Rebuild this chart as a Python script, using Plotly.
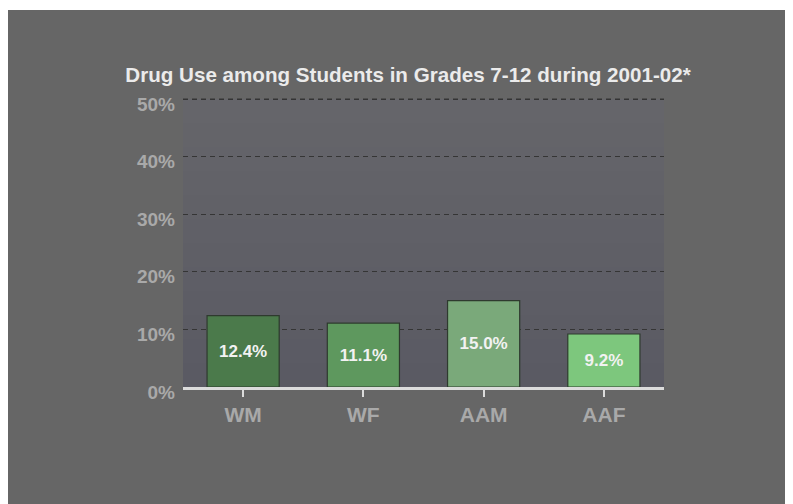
import plotly.graph_objects as go

categories = ["WM", "WF", "AAM", "AAF"]
values = [12.4, 11.1, 15.0, 9.2]
y_ticks = [0, 10, 20, 30, 40, 50]
y_tick_labels = ["0%", "10%", "20%", "30%", "40%", "50%"]
title_text = "Drug Use among Students in Grades 7-12 during 2001-02*"

bar_colors = ["#4b7a4b", "#5e985e", "#7aa97a", "#7dc77d"]

W, H = 793, 504
Y_TOP = 50.7
# plot area in figure coordinates (page has an 8px body margin)
L, R, B = 175, 656, 379
T = round(B - (B - 91) * Y_TOP / 50)

fig = go.Figure()
fig.add_trace(go.Bar(
    x=categories, y=values,
    width=0.6,
    marker=dict(color=bar_colors, line=dict(color="#2e3a2e", width=1.2)),
    text=[f"{v:.1f}%" for v in values],
    textposition="inside", insidetextanchor="middle",
    textfont=dict(family="Liberation Sans, Arial, sans-serif", size=17, color="#f2f2f2", weight="bold"),
    hoverinfo="skip",
))

shapes = []
pw = R - L
ph = B - T
n = 12
top_c = (0x65, 0x65, 0x6a)
bot_c = (0x5a, 0x5a, 0x63)
for i in range(n):
    f = i / (n - 1)
    c = tuple(round(top_c[k] + (bot_c[k] - top_c[k]) * f) for k in range(3))
    shapes.append(dict(type="rect", xref="paper", yref="y",
                       x0=0, x1=1, y0=y_ticks[-1] * (1 - (i + 1) / n), y1=y_ticks[-1] * (1 - i / n),
                       fillcolor="rgb(%d,%d,%d)" % c, line=dict(width=0), layer="below"))
# dashed gridline for the top tick (placed through the y axis scale)
shapes.append(dict(type="line", xref="paper", yref="y",
                   x0=0, x1=1, y0=y_ticks[-1], y1=y_ticks[-1],
                   line=dict(color="#353535", width=1, dash="5px,4px"), layer="above"))
# thin white strip at very top (reference has 10px white above)
shapes.append(dict(type="rect", xref="paper", yref="paper",
                   x0=(0 - L) / pw, x1=(W - L) / pw, y0=(B - 2) / ph, y1=(B - 0) / ph,
                   fillcolor="white", line=dict(width=0), layer="above"))

fig.update_layout(
    width=W, height=H,
    margin=dict(l=L, r=W - R, t=T, b=H - B, pad=0),
    paper_bgcolor="#666666",
    plot_bgcolor="rgba(0,0,0,0)",
    showlegend=False,
    shapes=shapes,
    title=dict(text="<b>" + title_text + "</b>", x=400 / W, xanchor="center",
               y=1 - 67 / H, yanchor="middle",
               font=dict(family="Liberation Sans, Arial, sans-serif", size=20.6, color="#ebebeb")),
)
fig.update_xaxes(
    showline=True, linecolor="#dcdcdc", linewidth=3,
    ticks="outside", ticklen=7, tickwidth=2, tickcolor="#dcdcdc",
    showgrid=False,
    tickfont=dict(family="Liberation Sans, Arial, sans-serif", size=21, color="#a9a9a9", weight="bold"),
)
fig.update_yaxes(
    range=[0, Y_TOP], tickvals=y_ticks, ticktext=y_tick_labels,
    showgrid=True, gridcolor="#353535", griddash="5px,4px", gridwidth=1,
    zeroline=False, showline=False, ticks="",
    ticklabelstandoff=7, ticklabelshift=5, automargin=False,
    tickfont=dict(family="Liberation Sans, Arial, sans-serif", size=19, color="#a9a9a9", weight="bold"),
)

fig.write_html("out.html")
